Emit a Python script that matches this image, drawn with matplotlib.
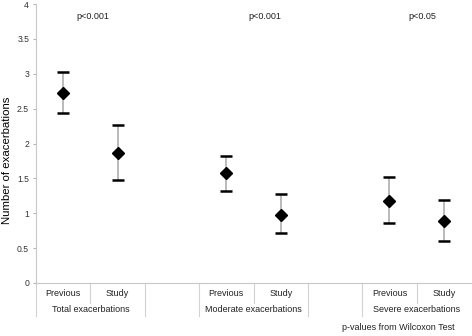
import numpy as np
import matplotlib.pyplot as plt

plt.rcParams['font.family'] = ['Liberation Sans', 'DejaVu Sans']

# Werte
groups = ['Total exacerbations', 'Moderate exacerbations', 'Severe exacerbations']
periods = ['Previous', 'Study']
means = [2.73, 1.86, 1.57, 0.98, 1.18, 0.89]
upper = [3.03, 2.26, 1.82, 1.28, 1.52, 1.19]
lower = [2.44, 1.47, 1.32, 0.71, 0.86, 0.60]
p_values = ['p<0.001', 'p<0.001', 'p<0.05']
note = 'p-values from Wilcoxon Test'

grey = '#b4b4b4'
xpos = np.array([0, 1, 3, 4, 6, 7])
means = np.array(means)
yerr = [means - np.array(lower), np.array(upper) - means]

fig = plt.figure(figsize=(4.72, 3.36), dpi=100)
ax = fig.add_axes([36 / 472, 53 / 336, 435 / 472, 279 / 336])

ax.errorbar(xpos, means, yerr=yerr, fmt='D', color='black', ms=6.5,
            ecolor=grey, elinewidth=1.3, capsize=0, zorder=3)
# schwarze Kappen
ax.scatter(xpos, upper, marker='_', s=70, color='black', linewidths=1.8, zorder=4)
ax.scatter(xpos, lower, marker='_', s=70, color='black', linewidths=1.8, zorder=4)

ax.set_xlim(-0.5, 7.5)
ax.set_ylim(0, 4)
ax.set_yticks(np.arange(0, 4.01, 0.5))
ax.set_yticklabels(['0', '0.5', '1', '1.5', '2', '2.5', '3', '3.5', '4'])
ax.tick_params(axis='y', labelsize=6.2, colors='#333333', length=2, color=grey, pad=3)
ax.set_xticks([])
ax.set_ylabel('Number of exacerbations', fontsize=8.2, va='center')
ax.yaxis.set_label_coords(-29 / 435, 0.44)

for s in ['top', 'right']:
    ax.spines[s].set_visible(False)
for s in ['left', 'bottom']:
    ax.spines[s].set_color('#c8c8c8')
    ax.spines[s].set_linewidth(0.8)

# Kategorienbeschriftung in zwei Zeilen (Excel-Stil)
tr = ax.get_xaxis_transform()
for i, g in enumerate(groups):
    x0 = 3 * i
    for j, p in enumerate(periods):
        ax.text(x0 + j, -0.038, p, transform=tr, ha='center', va='center',
                fontsize=6.5, color='#222222')
    ax.text(x0 + 0.5, -0.095, g, transform=tr, ha='center', va='center',
            fontsize=6.5, color='#222222')
    ax.text(x0 + 0.55 + (0.15 if i == 1 else 0) + (0.05 if i == 2 else 0), 0.955,
            p_values[i], transform=tr, ha='center', va='center',
            fontsize=6.5, color='#222222')

for x in [0.5, 3.5, 6.5]:
    ax.plot([x, x], [0, -0.07], transform=tr, color='#d2d2d2', lw=0.8, clip_on=False)
for x in [-0.5, 1.5, 2.5, 4.5, 5.5]:
    ax.plot([x, x], [0, -0.12], transform=tr, color='#d2d2d2', lw=0.8, clip_on=False)

fig.text(455 / 472, 1 - 327 / 336, note, ha='right', va='center',
         fontsize=6.5, color='#222222')

plt.savefig('out.png', dpi=100)
